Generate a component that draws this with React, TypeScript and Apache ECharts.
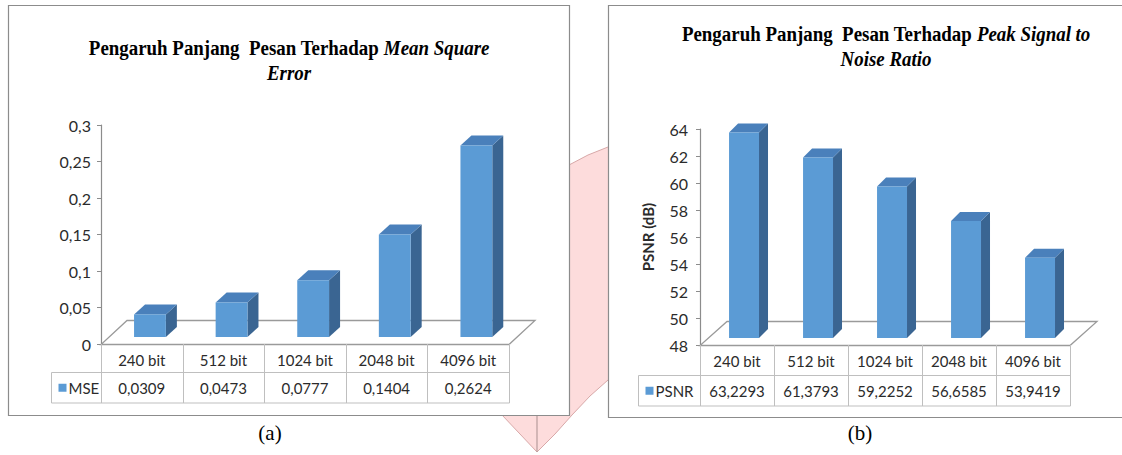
import React, { useEffect, useRef } from "react";
import * as echarts from "echarts";

const SANS = 'Lato, "Noto Sans", sans-serif';
const SERIF = '"Liberation Serif", "Times New Roman", serif';

const categories = ["240 bit", "512 bit", "1024 bit", "2048 bit", "4096 bit"];
const mseValues = [0.0309, 0.0473, 0.0777, 0.1404, 0.2624];
const psnrValues = [63.2293, 61.3793, 59.2252, 56.6585, 53.9419];
const mseTickLabels = ["0", "0,05", "0,1", "0,15", "0,2", "0,25", "0,3"];
const psnrTickLabels = ["48", "50", "52", "54", "56", "58", "60", "62", "64"];
const mseMin = 0, mseMax = 0.3, mseStep = 0.05;
const psnrMin = 48, psnrMax = 64, psnrStep = 2;

const FRONT = "#5b9bd5";
const SIDE = "#3a6592";
const TOP = "#4a80bb";
const TABLE_LINE = "#bfbfbf";
const FLOOR_LINE = "#9a9a9a";
const TEXT = "#2b2b2b";

type Cfg = { min: number; dx: number; dy: number; lift: number; fw: number; off: number; fdx: number; fdy: number; row1: number; row2: number; legendW: number; name: string };

const cfgA: Cfg = { min: mseMin, dx: 11, dy: 10, lift: 7, fw: 0.39, off: 0.1, fdx: 26, fdy: 24, row1: 28, row2: 30, legendW: 50, name: "MSE" };
const cfgB: Cfg = { min: psnrMin, dx: 9, dy: 9, lift: 7, fw: 0.405, off: 0.095, fdx: 27, fdy: 24, row1: 30, row2: 30, legendW: 62, name: "PSNR" };

function barRender(cfg: Cfg) {
  return (params: any, api: any) => {
    const i = api.value(0);
    const v = api.value(1);
    const bw = api.size([1, 0])[0];
    const base = api.coord([i, cfg.min]);
    const top = api.coord([i, v]);
    const fw = bw * cfg.fw;
    const x0 = base[0] + bw * cfg.off - fw / 2;
    const x1 = x0 + fw;
    const yb = base[1] - cfg.lift;
    const yt = top[1] - cfg.lift;
    const dx = cfg.dx, dy = cfg.dy;
    return {
      type: "group",
      children: [
        { type: "polygon", shape: { points: [[x1, yb], [x1 + dx, yb - dy], [x1 + dx, yt - dy], [x1, yt]] }, style: { fill: SIDE } },
        { type: "polygon", shape: { points: [[x0, yt], [x1, yt], [x1 + dx, yt - dy], [x0 + dx, yt - dy]] }, style: { fill: TOP } },
        { type: "rect", shape: { x: x0, y: yt, width: fw, height: yb - yt }, style: { fill: FRONT } },
      ],
    };
  };
}

function floorRender(cfg: Cfg) {
  return (params: any) => {
    const cs = params.coordSys;
    const yF = cs.y + cs.height + 0.5;
    const xL = cs.x, xR = cs.x + cs.width;
    return {
      type: "polygon",
      shape: { points: [[xL, yF], [xR, yF], [xR + cfg.fdx, yF - cfg.fdy], [xL + cfg.fdx, yF - cfg.fdy]] },
      style: { fill: "none", stroke: FLOOR_LINE, lineWidth: 1.3 },
    };
  };
}

function tableRender(cfg: Cfg, fmt: (v: number) => string) {
  return (params: any, api: any) => {
    const cs = params.coordSys;
    const i = api.value(0);
    const v = api.value(1);
    const bw = api.size([1, 0])[0];
    const c = api.coord([i, cfg.min]);
    const x0 = Math.round(c[0] - bw / 2) + 0.5;
    const x1 = Math.round(c[0] + bw / 2) + 0.5;
    const yTop = cs.y + cs.height;
    const yMid = Math.round(yTop + cfg.row1) + 0.5;
    const yBot = Math.round(yMid + cfg.row2);
    const ln = (a: number, b: number, c2: number, d: number) => ({ type: "line", shape: { x1: a, y1: b, x2: c2, y2: d }, style: { stroke: TABLE_LINE, lineWidth: 1 } });
    const children: any[] = [
      ln(x1, yTop, x1, yBot),
      { type: "text", style: { text: fmt(v), x: c[0], y: (yMid + yBot) / 2, align: "center", verticalAlign: "middle", fontSize: 15, fontFamily: SANS, fill: TEXT } },
    ];
    if (i === 0) {
      const lx = x0 - cfg.legendW;
      const right = Math.round(cs.x + cs.width) + 0.5;
      children.push(ln(x0, yTop, x0, yBot));
      children.push(ln(lx, yMid, right, yMid));
      children.push(ln(lx, yBot, right, yBot));
      children.push(ln(lx, yMid, lx, yBot));
      children.push({ type: "rect", shape: { x: lx + 7, y: (yMid + yBot) / 2 - 4, width: 8, height: 8 }, style: { fill: FRONT } });
      children.push({ type: "text", style: { text: cfg.name, x: lx + 17, y: (yMid + yBot) / 2, align: "left", verticalAlign: "middle", fontSize: 15, fontFamily: SANS, fill: TEXT } });
    }
    return { type: "group", children };
  };
}

const fmtComma4 = (v: number) => v.toFixed(4).replace(".", ",");

const titleRich = {
  b: { fontFamily: SERIF, fontWeight: "bold", fontSize: 22, lineHeight: 26, fill: "#000" },
  i: { fontFamily: SERIF, fontWeight: "bold", fontStyle: "italic", fontSize: 22, lineHeight: 26, fill: "#000" },
};

export default function App() {
  const ref = useRef<HTMLDivElement>(null);
  useEffect(() => {
    if (!ref.current) return;
    const chart = echarts.init(ref.current, undefined, { renderer: "svg" });
    const gridA = { left: 101, top: 125, width: 408, height: 219 };
    const gridB = { left: 700, top: 129, width: 370, height: 216 };
    const xAxisBase = {
      type: "category",
      data: categories,
      axisLine: { show: false },
      axisTick: { show: false },
      axisLabel: { fontSize: 15, fontFamily: SANS, color: TEXT, margin: 8 },
    };
    const yAxisBase = {
      type: "value",
      axisLine: { show: true, lineStyle: { color: "#8c8c8c", width: 1.2 } },
      axisTick: { show: true, length: 4, lineStyle: { color: "#8c8c8c" } },
      splitLine: { show: false },
    };
    const option: any = {
      animation: false,
      backgroundColor: "#ffffff",
      grid: [
        { ...gridA, containLabel: false },
        { ...gridB, containLabel: false },
      ],
      xAxis: [
        { ...xAxisBase, gridIndex: 0 },
        { ...xAxisBase, gridIndex: 1 },
      ],
      yAxis: [
        {
          ...yAxisBase, gridIndex: 0, min: mseMin, max: mseMax, interval: mseStep,
          axisLabel: { fontSize: 16, fontFamily: SANS, color: TEXT, margin: 10, formatter: (_v: number, idx: number) => mseTickLabels[idx] },
        },
        {
          ...yAxisBase, gridIndex: 1, min: psnrMin, max: psnrMax, interval: psnrStep,
          name: "PSNR (dB)", nameLocation: "middle", nameGap: 45, nameRotate: 90,
          nameTextStyle: { fontSize: 15, fontWeight: "bold", fontFamily: SANS, color: TEXT },
          axisLabel: { fontSize: 16, fontFamily: SANS, color: TEXT, margin: 12, formatter: (_v: number, idx: number) => psnrTickLabels[idx] },
        },
      ],
      graphic: {
        elements: [
          {
            type: "polygon", z: -5,
            shape: { points: [[480, 220], [560, 170], [569, 165], [588, 155], [608, 147], [700, 122], [700, 360], [608, 380], [590, 396], [572, 415], [555, 434], [537, 452], [502, 415], [498, 400], [480, 400]] },
            style: { fill: "#fddcdc", stroke: "#d8a8a8", lineWidth: 1 },
          },
          { type: "line", z: -4, shape: { x1: 537, y1: 415, x2: 537, y2: 452 }, style: { stroke: "#b89c9c", lineWidth: 1.2 } },
          { type: "rect", z: -3, shape: { x: 8.5, y: 5.5, width: 561, height: 410 }, style: { fill: "#fff", stroke: "#8c8c8c", lineWidth: 1.2 } },
          { type: "rect", z: -3, shape: { x: 608.5, y: 5.5, width: 560, height: 412 }, style: { fill: "#fff", stroke: "#8c8c8c", lineWidth: 1.2 } },
          {
            type: "text", z: 5, x: 289, y: 60, scaleX: 0.86,
            style: {
              text: "{b|Pengaruh Panjang  Pesan Terhadap }{i|Mean Square}\n{i|Error}",
              x: 0, y: 0, align: "center", verticalAlign: "middle", lineHeight: 26,
              rich: titleRich,
            },
          },
          {
            type: "text", z: 5, x: 886, y: 46, scaleX: 0.86,
            style: {
              text: "{b|Pengaruh Panjang  Pesan Terhadap }{i|Peak Signal to}\n{i|Noise Ratio}",
              x: 0, y: 0, align: "center", verticalAlign: "middle", lineHeight: 26,
              rich: titleRich,
            },
          },
          { type: "text", z: 5, style: { text: "(a)", x: 270, y: 433, align: "center", verticalAlign: "middle", fontSize: 21, fontFamily: SERIF, fill: "#000" } },
          { type: "text", z: 5, style: { text: "(b)", x: 860, y: 433, align: "center", verticalAlign: "middle", fontSize: 21, fontFamily: SERIF, fill: "#000" } },
        ],
      },
      series: [
        { type: "custom", name: "floorA", xAxisIndex: 0, yAxisIndex: 0, z: 1, data: [[0, mseMin]], renderItem: floorRender(cfgA), silent: true },
        { type: "custom", name: "floorB", xAxisIndex: 1, yAxisIndex: 1, z: 1, data: [[0, psnrMin]], renderItem: floorRender(cfgB), silent: true },
        { type: "custom", name: "MSE", xAxisIndex: 0, yAxisIndex: 0, z: 3, data: mseValues.map((v, i) => [i, v]), renderItem: barRender(cfgA) },
        { type: "custom", name: "PSNR", xAxisIndex: 1, yAxisIndex: 1, z: 3, data: psnrValues.map((v, i) => [i, v]), renderItem: barRender(cfgB) },
        { type: "custom", name: "tableA", xAxisIndex: 0, yAxisIndex: 0, z: 2, data: mseValues.map((v, i) => [i, v]), renderItem: tableRender(cfgA, fmtComma4), silent: true },
        { type: "custom", name: "tableB", xAxisIndex: 1, yAxisIndex: 1, z: 2, data: psnrValues.map((v, i) => [i, v]), renderItem: tableRender(cfgB, fmtComma4), silent: true },
      ],
    };
    chart.setOption(option);
    return () => chart.dispose();
  }, []);
  return <div ref={ref} style={{ position: "fixed", left: 0, top: 0, width: 1122, height: 455 }} />;
}
